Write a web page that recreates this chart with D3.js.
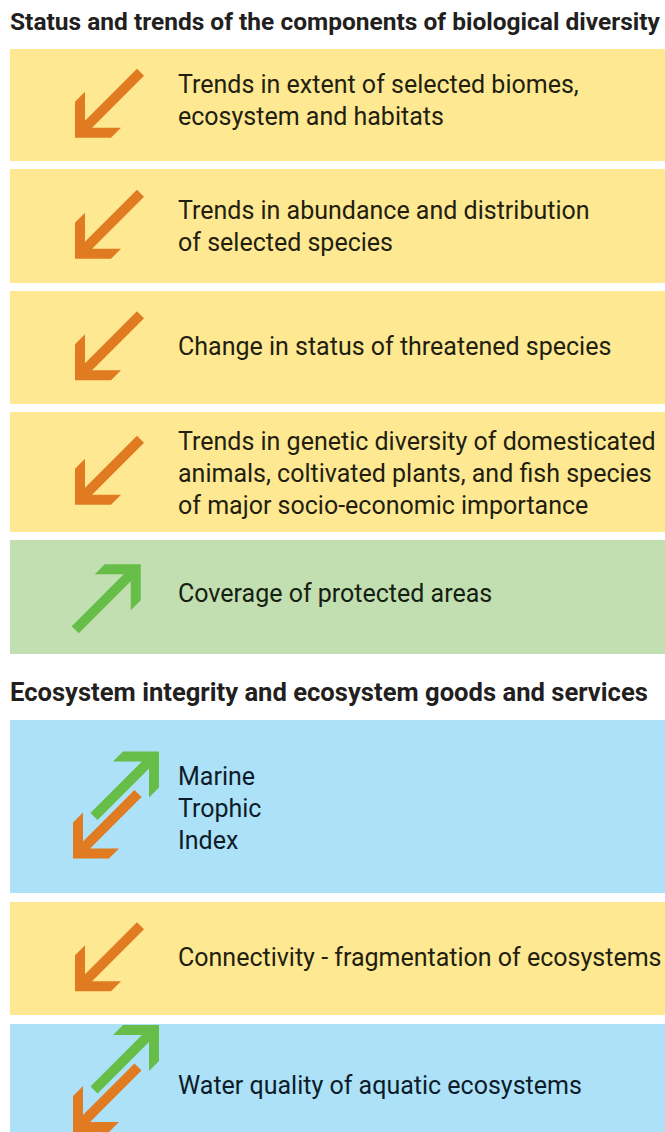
<!DOCTYPE html>
<html>
<head>
<meta charset="utf-8">
<script src="https://cdn.jsdelivr.net/npm/d3@7"></script>
<style>
  body { margin: 0; background: #fff; }
</style>
</head>
<body>
<div id="chart-container"></div>
<script>
// data
const sectionTitles = [
  "Status and trends of the components of biological diversity",
  "Ecosystem integrity and ecosystem goods and services"
];

const indicatorLines = [
  ["Trends in extent of selected biomes,", "ecosystem and habitats"],
  ["Trends in abundance and distribution", "of selected species"],
  ["Change in status of threatened species"],
  ["Trends in genetic diversity of domesticated", "animals, coltivated plants, and fish species", "of major socio-economic importance"],
  ["Coverage of protected areas"],
  ["Marine", "Trophic", "Index"],
  ["Connectivity - fragmentation of ecosystems"],
  ["Water quality of aquatic ecosystems"]
];

const indicatorTrends = ["down", "down", "down", "down", "up", "both", "down", "both"];
const indicatorSection = [0, 0, 0, 0, 0, 1, 1, 1];

// layout
const width = 665, height = 1132;
const sectionTop = [0, 671];
const titleBaseline = 29.5;
const titleSize = [24.5, 25.6];
const firstPanelOffset = 49;
const panelHeights = [112, 114, 113, 120, 114, 173, 113, 112];
const panelGap = [8, 8, 8, 8, 8, 9, 9, 9];
const textShift = [-5, 0, -2, 1, -4, 1.5, -1.5, 5];
const textX = 178;
const lineStep = 31.7;
const capH = 18;

const panelColor = d3.scaleOrdinal()
  .domain(["down", "up", "both"])
  .range(["#fee892", "#c1dfb0", "#ade1f7"]);
const textColor = d3.scaleOrdinal()
  .domain(["down", "up", "both"])
  .range(["#221e10", "#162012", "#0c1c2a"]);
const orange = "#e07b22", green = "#66bd47";

// panel y positions, stacked per section
const panels = indicatorLines.map((lines, i) => ({
  lines, trend: indicatorTrends[i], section: indicatorSection[i],
  h: panelHeights[i], shift: textShift[i]
}));
d3.range(sectionTitles.length).forEach(s => {
  let y = sectionTop[s] + firstPanelOffset;
  panels.forEach((p, i) => {
    if (p.section !== s) return;
    p.y = y;
    y += p.h + panelGap[i];
  });
});

const svg = d3.select("#chart-container")
  .append("svg")
  .attr("width", width)
  .attr("height", height);

// section titles
svg.selectAll("text.title")
  .data(sectionTitles)
  .join("text")
  .attr("class", "title")
  .attr("x", 10)
  .attr("y", (d, i) => sectionTop[i] + titleBaseline)
  .style("font-family", "Roboto, sans-serif")
  .style("font-weight", "bold")
  .style("font-size", (d, i) => titleSize[i] + "px")
  .style("fill", "#231f20")
  .text(d => d);

// arrow outline, tip at origin pointing down-left
const s = 46, t = 10, hw = 5;
const arrowShape = L => [
  [0, 0], [0, -(s - t)], [t, -s], [t, -t - hw * Math.SQRT2],
  [L - hw / Math.SQRT2, -L - hw / Math.SQRT2], [L + hw / Math.SQRT2, -L + hw / Math.SQRT2],
  [t + hw * Math.SQRT2, -t], [s, -t], [s - t, 0]
];
const line = d3.line().curve(d3.curveLinearClosed);

const g = svg.selectAll("g.panel")
  .data(panels)
  .join("g")
  .attr("class", "panel")
  .attr("transform", d => `translate(0, ${d.y})`);

g.append("rect")
  .attr("x", 10)
  .attr("y", 0)
  .attr("width", width - 10)
  .attr("height", d => d.h)
  .attr("fill", d => panelColor(d.trend));

g.each(function(d) {
  const cy = d.h / 2;
  const el = d3.select(this);
  if (d.trend === "down") {
    el.append("path")
      .attr("d", line(arrowShape(65.5)))
      .attr("fill", orange)
      .attr("transform", `translate(${107.75 - 32.75}, ${cy + 32.75})`);
  } else if (d.trend === "up") {
    el.append("path")
      .attr("d", line(arrowShape(65.5)))
      .attr("fill", green)
      .attr("transform", `translate(${108 + 32.75}, ${cy - 32.75}) rotate(180)`);
  } else {
    // two-way arrow: green up, orange down, side by side
    const cx = 116, cc = cy - 1.5;
    el.append("path")
      .attr("d", line(arrowShape(65)))
      .attr("fill", green)
      .attr("transform", `translate(${cx + 43}, ${cc - 53.5}) rotate(180)`);
    el.append("path")
      .attr("d", line(arrowShape(65)))
      .attr("fill", orange)
      .attr("transform", `translate(${cx - 43}, ${cc + 53.5})`);
  }
  const n = d.lines.length;
  el.selectAll("text")
    .data(d.lines)
    .join("text")
    .attr("x", textX)
    .attr("y", (l, i) => cy + d.shift + capH / 2 + (i - (n - 1) / 2) * lineStep)
    .style("font-family", "Roboto, sans-serif")
    .style("font-size", "25px")
    .style("fill", textColor(d.trend))
    .text(l => l);
});
</script>
</body>
</html>
